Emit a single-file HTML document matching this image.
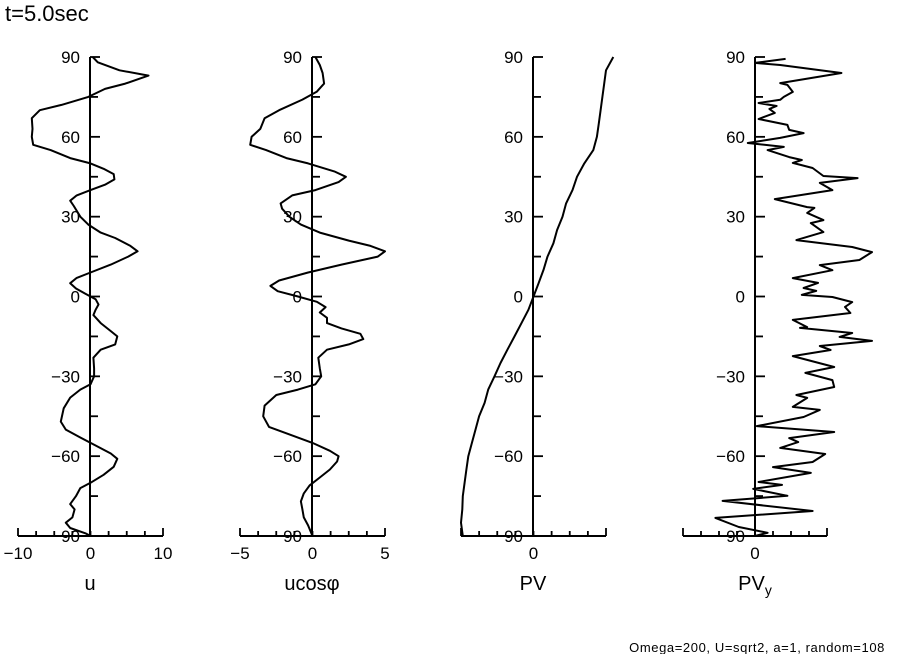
<!DOCTYPE html>
<html><head><meta charset="utf-8">
<style>
body{margin:0;background:#fff;}
svg{display:block;font-family:"Liberation Sans",sans-serif;}
</style></head>
<body>
<svg id="chart" width="904" height="654" viewBox="0 0 904 654">
<text x="5" y="21" font-size="22">t=5.0sec</text>
<text x="885" y="652" font-size="13" text-anchor="end" letter-spacing="0.6">Omega=200, U=sqrt2, a=1, random=108</text>
</svg>
<script>
// latitude ticks
const latTicks = [90, 60, 30, 0, -30, -60, -90];

// u (panel 1)
const uLat = [90,88,85,83,80,78,75,72,70,67,63,60,57,55,52,50,48,46,44,42,40,38,36,34,30,27,24,22,19,17,15,12,9,7,5,3,1,-1,-3,-5,-7,-10,-13,-15,-18,-20,-23,-27,-30,-33,-35,-38,-42,-47,-50,-53,-56,-59,-61,-64,-67,-70,-72,-75,-78,-80,-83,-85,-87,-89,-90];
const uVal = [0.3,1,4,8,4.8,2,-0.3,-4,-7,-8.1,-8,-8.1,-7.9,-5.5,-2.8,0,1.8,3.2,3.3,2,0,-1.9,-2.8,-2.3,-1.4,-0.3,1.4,3.4,5.5,6.5,5.2,2.8,0,-1.9,-2.8,-2,-0.7,0.7,1.1,0.7,0.4,1.4,2.8,3.7,3.4,1.4,0.4,0.5,0.5,0,-1.4,-2.8,-3.7,-4.1,-3.4,-1.4,0.7,2.8,3.7,3.2,1.8,0,-1.4,-2,-2.8,-2.2,-2.5,-3.4,-2.8,-0.7,0];

// u cos(phi) (panel 2)
const ucLat = [90,87,84,80,77,74,70,67,63,60,57,55,52,50,47,45,43,40,38,35,33,30,27,24,21,19,17,15,12,9,6,4,2,0,-2,-4,-6,-8,-10,-12,-14,-16,-18,-20,-23,-27,-30,-33,-35,-37,-41,-45,-49,-52,-55,-58,-60,-62,-65,-68,-71,-74,-77,-80,-83,-86,-90];
const ucVal = [0.2,0.5,0.7,0.8,0.3,-0.7,-2.3,-3.3,-3.6,-4.2,-4.3,-3.2,-1.8,-0.3,1.5,2.3,1.8,0.2,-1.4,-2.2,-2.1,-1.6,-0.8,0.5,2.5,4.0,5.0,4.5,2,-0.3,-2.3,-2.9,-2.4,-1.0,0.3,0.9,0.5,1.0,1.0,2.0,3.3,3.5,2.5,1.0,0.4,0.5,0.6,0.2,-1.0,-2.5,-3.3,-3.4,-3.0,-1.5,0,1.2,1.8,1.7,1.2,0.5,-0.2,-0.6,-0.8,-0.7,-0.6,-0.3,0];

// PV (panel 3)
const pvLat = [90,85,80,75,70,65,60,55,50,45,40,35,30,25,20,15,10,5,0,-5,-10,-15,-20,-25,-30,-35,-40,-45,-50,-55,-60,-65,-70,-75,-80,-85,-90];
const pvVal = [4.4,4.0,3.9,3.8,3.7,3.6,3.5,3.3,2.8,2.4,2.15,1.8,1.6,1.3,1.1,0.77,0.55,0.28,0,-0.28,-0.66,-1.05,-1.44,-1.82,-2.15,-2.5,-2.7,-3.0,-3.2,-3.4,-3.6,-3.7,-3.8,-3.9,-3.93,-4.0,-3.9];

// PV_y (panel 4)
const pvyLat = [89.3,87.8,87.0,84.0,80.2,79.5,76.9,75.0,73.9,72.7,71.6,70.5,69.0,66.7,64.5,62.6,61.4,59.6,57.7,56.2,55.0,52.4,51.3,50.2,48.3,45.3,44.5,42.7,40.0,36.6,33.6,33.3,31.4,28.7,27.6,24.2,21.2,18.6,16.7,13.7,11.8,9.9,6.9,5.1,3.2,2.1,0.6,-0.2,-2.1,-3.9,-6.2,-8.8,-11.5,-11.8,-13.7,-15.2,-16.7,-18.6,-20.1,-22.4,-26.5,-28.7,-31.4,-34.0,-37.0,-38.1,-41.5,-42.6,-45.3,-48.7,-50.9,-53.2,-54.7,-56.9,-59.2,-62.2,-64.1,-66.3,-69.7,-70.8,-72.3,-74.9,-76.8,-80.6,-83.2,-86.6,-88.8,-90];
const pvyVal = [1.7,0,1.4,4.8,1.4,1.8,2.1,1.6,1.4,0.2,1.2,0.8,1.1,0.2,1.8,1.9,2.7,1.4,-0.4,1.6,0.7,1.9,2.6,2.1,3.2,3.8,5.7,3.6,4.3,1.1,2.9,3.3,2.9,3.8,3.1,3.8,2.3,5.4,6.5,5.8,3.6,4.3,2.1,3.5,2.7,3.4,2.6,4.3,5.4,5.0,5.3,2.1,2.9,2.5,5.4,4.7,6.5,3.6,4.2,2.1,4.4,2.8,4.3,4.4,2.3,2.9,2.1,3.6,2.7,0.1,4.4,1.9,2.4,1.4,3.9,3.2,1.0,3.1,0.2,1.5,-0.1,1.8,-1.8,3.2,-2.2,-0.9,0.7,0];

const svg = document.getElementById('chart');
const NS = 'http://www.w3.org/2000/svg';
const yTop = 57, yBot = 536;
function yScale(lat){ return yBot - (lat + 90) / 180 * (yBot - yTop); }

function mk(tag, attrs, parent){
  const e = document.createElementNS(NS, tag);
  for (const k in attrs) e.setAttribute(k, attrs[k]);
  parent.appendChild(e);
  return e;
}

const panels = [
  {key:'u', axisX:90, left:18, right:163, min:-10, max:10, nTicks:8, xLabels:['-10','0','10'], xLabelVals:[-10,0,10], title:'u', lat:uLat, val:uVal},
  {key:'ucos', axisX:312, left:240, right:385, min:-5, max:5, nTicks:8, xLabels:['-5','0','5'], xLabelVals:[-5,0,5], title:'ucos\u03C6', lat:ucLat, val:ucVal},
  {key:'pv', axisX:533, left:461, right:606, min:-4, max:4, nTicks:8, xLabels:['0'], xLabelVals:[0], title:'PV', lat:pvLat, val:pvVal},
  {key:'pvy', axisX:755, left:683, right:827, min:-4, max:4, nTicks:8, xLabels:['0'], xLabelVals:[0], title:'PV', sub:'y', lat:pvyLat, val:pvyVal}
];

panels.forEach(p => {
  const g = mk('g', {}, svg);
  
  
  const xs = v => p.left + (v - p.min) / (p.max - p.min) * (p.right - p.left);

  const va = mk('line', {x1:p.axisX, x2:p.axisX, y1:yTop, y2:yBot, stroke:'#000', 'stroke-width':2}, g);
  
  
  for (let lat = -90; lat <= 90; lat += 15) {
    const major = lat % 30 === 0;
    const t = mk('line', {x1:p.axisX, x2:p.axisX + (major ? 10 : 8), y1:yScale(lat), y2:yScale(lat), stroke:'#000', 'stroke-width':1.8}, g);
    
    
  }
  latTicks.forEach(lat => {
    const t = mk('text', {x:p.axisX - 10, y:yScale(lat) + 6, 'font-size':17, 'text-anchor':'end'}, g);
    t.textContent = String(lat).replace('-', '\u2212');
    
    
  });

  const ha = mk('line', {x1:p.left, x2:p.right, y1:yBot, y2:yBot, stroke:'#000', 'stroke-width':2}, g);
  
  
  for (let i = 0; i <= p.nTicks; i++) {
    const x = p.left + i * (p.right - p.left) / p.nTicks;
    const t = mk('line', {x1:x, x2:x, y1:yBot, y2:yBot - (i === 0 || i === p.nTicks ? 8 : 5), stroke:'#000', 'stroke-width':1.8}, g);
    
    
  }
  p.xLabels.forEach((lab, i) => {
    const t = mk('text', {x:xs(p.xLabelVals[i]), y:559, 'font-size':17, 'text-anchor':'middle'}, g);
    t.textContent = lab.replace('-', '\u2212');
    
    
  });

  const tt = mk('text', {x:p.axisX, y:590, 'font-size':20, 'text-anchor':'middle'}, g);
  tt.textContent = p.title;
  if (p.sub) {
    const s = mk('tspan', {'font-size':14, dy:5}, tt);
    s.textContent = p.sub;
  }
  
  

  const pts = p.lat.map((lat, i) => xs(p.val[i]).toFixed(1) + ',' + yScale(lat).toFixed(1)).join(' ');
  const pl = mk('polyline', {points:pts, fill:'none', stroke:'#000', 'stroke-width':2, 'stroke-linejoin':'round'}, g);
  
  
});
</script>
</body></html>
